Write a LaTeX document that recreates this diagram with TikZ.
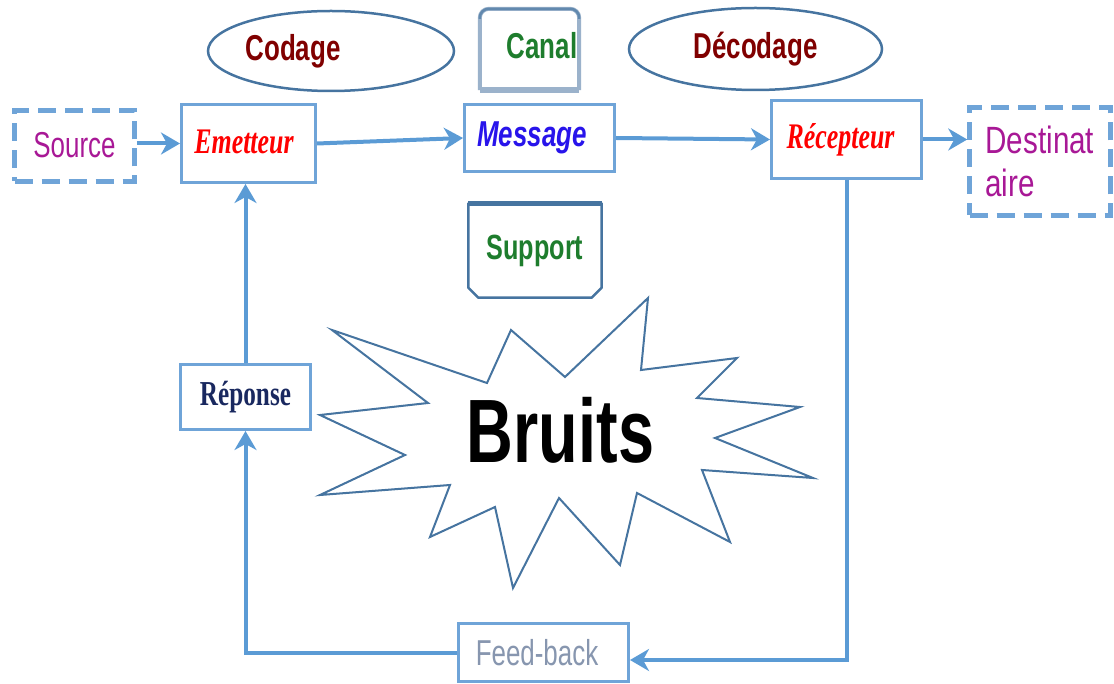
\documentclass[tikz,border=0pt]{standalone}
\usepackage{fontspec}
\usetikzlibrary{arrows.meta,calc,shapes.geometric}

% condensed faces used for all labels
\newfontfamily\nsans[FakeStretch=0.72]{Liberation Sans}
\newfontfamily\nsanswide[FakeStretch=0.78]{Liberation Sans}
\newfontfamily\nserif[FakeStretch=0.72]{Liberation Serif}

\definecolor{boxblue}{RGB}{111,164,216}
\definecolor{arrowblue}{RGB}{91,155,213}
\definecolor{ovalblue}{RGB}{70,116,160}
\definecolor{canallight}{RGB}{155,178,203}
\definecolor{srcmag}{RGB}{168,24,150}
\definecolor{codred}{RGB}{128,0,0}
\definecolor{chgreen}{RGB}{30,125,45}
\definecolor{msgblue}{RGB}{40,20,235}
\definecolor{repnavy}{RGB}{25,40,95}
\definecolor{fbgrey}{RGB}{135,150,175}

\begin{document}
\begin{tikzpicture}[x=1pt,y=-1pt,
  box/.style={draw=boxblue, line width=3pt, inner sep=0pt, fill=white},
  dashbox/.style={draw=boxblue, line width=4.5pt, dash pattern=on 18pt off 9pt, inner sep=0pt},
  oval/.style={ellipse, draw=ovalblue, line width=2.5pt, inner sep=0pt},
  bare/.style={inner sep=0pt},
  shapeline/.style={draw=ovalblue, line width=2.5pt, line join=round},
  flow/.style={draw=arrowblue, line width=4pt, -{Stealth[length=19pt,width=22pt,inset=6pt]}},
]
\useasboundingbox (0,0) rectangle (1114,684);

% top row
\node[dashbox, minimum width=120pt, minimum height=71pt, text=srcmag,
      font=\nsans\fontsize{36}{40}\selectfont] (source) at (74.5,146) {\raisebox{2pt}{Source}};
\node[box, minimum width=134pt, minimum height=78pt, text=red,
      font=\nserif\bfseries\itshape\fontsize{36}{40}\selectfont] (emetteur) at (248.5,143.5)
      {\raisebox{4pt}{Emetteur}\hspace*{9pt}};
\node[box, minimum width=150pt, minimum height=67pt, text=msgblue,
      font=\nsans\bfseries\itshape\fontsize{36}{40}\selectfont] (message) at (539.5,138)
      {Message\hspace*{15pt}};
\node[box, minimum width=150pt, minimum height=78pt, text=red,
      font=\nserif\bfseries\itshape\fontsize{36}{40}\selectfont] (recepteur) at (846.5,139.5)
      {Récepteur\hspace*{12pt}};
\node[dashbox, minimum width=141pt, minimum height=108pt, inner xsep=16pt,
      text width=109pt, align=left, text=srcmag,
      font=\nsanswide\fontsize{38}{43}\selectfont] (dest) at (1040,161.5) {Destinat\\aire};

% ovals and channel shapes
\node[oval, minimum width=246pt, minimum height=80pt, text=codred,
      font=\nsans\bfseries\fontsize{36}{40}\selectfont] (codage) at (331,51) {Codage\hspace*{76pt}};
\node[oval, minimum width=253pt, minimum height=82pt, text=codred,
      font=\nsans\bfseries\fontsize{36}{40}\selectfont] (decodage) at (755.5,49) {Décodage};
\node[bare, minimum width=99pt, minimum height=81pt, text=chgreen,
      font=\nsans\bfseries\fontsize{36}{40}\selectfont] (canal) at (529.5,49.5)
      {\hspace*{25pt}\raisebox{8pt}{Canal}};
\draw[canallight, line width=4pt, rounded corners=9pt]
  (canal.south west) -- (canal.north west) -- (canal.north east) -- (canal.south east);
\draw[ovalblue!85, line width=2.5pt, rounded corners=9pt]
  ([yshift=-10pt]canal.north west) -- (canal.north west) -- (canal.north east) -- ([yshift=-10pt]canal.north east);
\draw[canallight, line width=6pt] (canal.south west) -- (canal.south east);

\node[bare, minimum width=133pt, minimum height=94pt, text=chgreen,
      font=\nsans\bfseries\fontsize{35}{40}\selectfont] (support) at (535,250.5)
      {\raisebox{5pt}{Support}};
\draw[shapeline]
  (support.north west) -- ($(support.south west)+(0,-10)$) -- ($(support.south west)+(10,0)$)
  -- ($(support.south east)+(-10,0)$) -- ($(support.south east)+(0,-10)$) -- (support.north east) -- cycle;
\draw[ovalblue, line width=4.5pt] (support.north west) -- (support.north east);

% noise burst
\draw[draw=ovalblue, line width=2pt, line join=miter, fill=white]
  (332,330) -- (487,383) -- (511,330) -- (565,377) -- (648,298) -- (641,370)
  -- (737,358) -- (697,398) -- (800,407) -- (715,438) -- (813,478) -- (702,470)
  -- (730,542) -- (637,493) -- (620,565) -- (559,498) -- (513,588) -- (495,507)
  -- (430,537) -- (450,485) -- (320,495) -- (405,455) -- (320,415) -- (428,403) -- cycle;
\node[bare, font=\nsans\bfseries\fontsize{90}{95}\selectfont] (bruits) at (560.5,430) {Bruits};

% feedback loop
\node[box, minimum width=130pt, minimum height=65pt, text=repnavy,
      font=\nserif\bfseries\fontsize{35}{40}\selectfont] (reponse) at (245.5,397) {Réponse};
\node[box, minimum width=170pt, minimum height=58pt, text=fbgrey,
      font=\nsans\fontsize{36}{40}\selectfont] (feedback) at (543.5,652.5) {Feed-back\hspace*{13pt}};

% connectors
\draw[flow] (source.east |- emetteur.west) -- (emetteur.west);
\draw[flow] (emetteur.east) -- (message.west);
\draw[flow] (message.east) -- (recepteur.west);
\draw[flow] (recepteur.east) -- (recepteur.east -| dest.west);
\draw[flow] (recepteur.south) |- ([yshift=-7.5pt]feedback.east);
\draw[flow] (feedback.west) -| (reponse.south);
\draw[flow] (reponse.north) -- (reponse.north |- emetteur.south);
\end{tikzpicture}
\end{document}
